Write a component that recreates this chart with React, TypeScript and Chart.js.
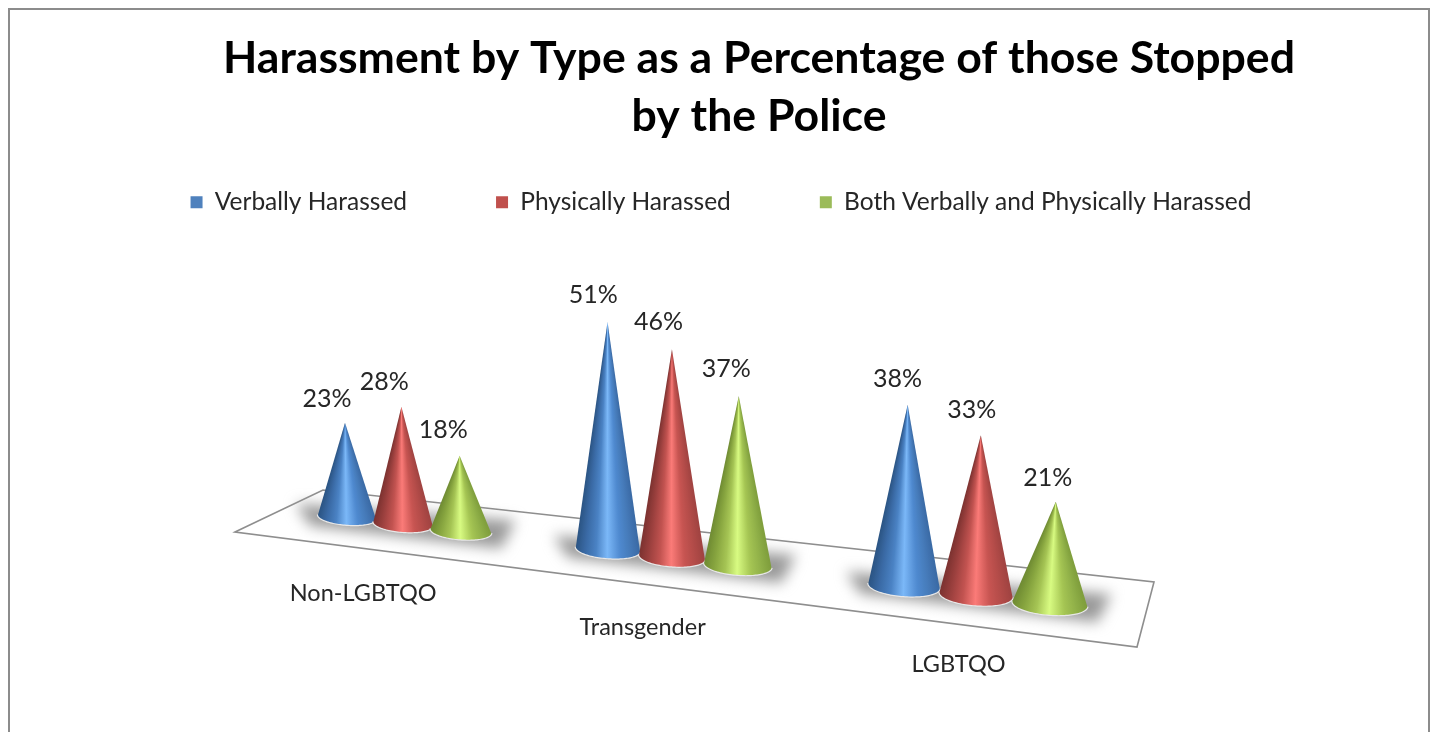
import React, { useEffect, useRef } from "react";
import { Chart, registerables } from "chart.js";

Chart.register(...registerables);

const categories = ["Non-LGBTQO", "Transgender", "LGBTQO"];
const verballyHarassed = [23, 51, 38];
const physicallyHarassed = [28, 46, 33];
const bothHarassed = [18, 37, 21];
const seriesNames = ["Verbally Harassed", "Physically Harassed", "Both Verbally and Physically Harassed"];
const titleLines = ["Harassment by Type as a Percentage of those Stopped", "by the Police"];

const FONT = "Lato, Carlito, Calibri, sans-serif";

const ramps: [number, string][][] = [
  [[0, "#3a6aa5"], [0.12, "#4478b6"], [0.3, "#4f8ad0"], [0.5, "#7bb8f8"], [0.68, "#4a82c4"], [0.85, "#3a6aa5"], [1, "#2b5483"]],
  [[0, "#a04341"], [0.12, "#b04a47"], [0.3, "#c85552"], [0.5, "#fb7b78"], [0.68, "#c25350"], [0.85, "#9c403e"], [1, "#7c3230"]],
  [[0, "#7f9e3c"], [0.12, "#8eae47"], [0.3, "#a6c654"], [0.5, "#d8fb82"], [0.68, "#a5c454"], [0.85, "#87a53f"], [1, "#6f8b33"]],
];

const hex = (s: string) => [1, 3, 5].map((i) => parseInt(s.slice(i, i + 2), 16));
function rampColor(ramp: [number, string][], u: number) {
  for (let i = 1; i < ramp.length; i++) {
    if (u <= ramp[i][0]) {
      const t = (u - ramp[i - 1][0]) / (ramp[i][0] - ramp[i - 1][0]);
      const a = hex(ramp[i - 1][1]);
      const b = hex(ramp[i][1]);
      return `rgb(${a.map((v, k) => Math.round(v + (b[k] - v) * t)).join(",")})`;
    }
  }
  return ramp[ramp.length - 1][1];
}

// Oblique floor projection: scale pixels -> picture pixels
const projX = (t: number) => {
  const d = t - 723;
  return 672 + 0.6036 * d + 7.8e-5 * d * d;
};
const floorY = (sx: number, base: number) => base + 0.1238 * (sx - 672);
const pxPerValue = (sx: number) => 4.22 + 0.00111 * (sx - 347);
const radiusX = (sx: number) => 29 + 0.0121 * (sx - 347);
const radiusY = (sx: number) => 8 + 0.0043 * (sx - 347);

function drawCone(ctx: CanvasRenderingContext2D, el: any, value: number, ramp: [number, string][], unit: number) {
  const sx = projX(el.x);
  const fy = floorY(sx, el.base);
  const by = fy - 3;
  const rx = radiusX(sx);
  const ry = radiusY(sx);
  const h = ((el.base - el.y) / unit) * pxPerValue(sx);
  const ax = sx + (sx - 680) * (sx < 680 ? 0.006 : 0.016);
  const ay = fy - h;
  const rot = 0.075;
  const pt = (th: number) => {
    const px = rx * Math.cos(th);
    const py = ry * Math.sin(th);
    return [sx + px * Math.cos(rot) - py * Math.sin(rot), by + px * Math.sin(rot) + py * Math.cos(rot)];
  };
  const N = 60;
  ctx.save();
  const rim = new Path2D();
  for (let i = 0; i <= N; i++) {
    const p = pt(Math.PI - (Math.PI * i) / N);
    if (i === 0) rim.moveTo(p[0], p[1]);
    else rim.lineTo(p[0], p[1]);
  }
  ctx.strokeStyle = "#e8e8e8";
  ctx.lineWidth = 2.4;
  ctx.stroke(rim);

  // colours converge on the apex through an angular gradient
  const grad = (ctx as any).createConicGradient(0, ax, ay);
  for (let i = 0; i <= N; i++) {
    const th = (Math.PI * i) / N; // right (0) to left (PI) across the front
    const p = pt(th);
    let ang = Math.atan2(p[1] - ay, p[0] - ax);
    if (ang < 0) ang += Math.PI * 2;
    grad.addColorStop(Math.min(1, ang / (Math.PI * 2)), rampColor(ramp, (1 - Math.cos(th)) / 2));
  }
  const body = new Path2D();
  body.moveTo(ax, ay);
  for (let i = 0; i <= N; i++) {
    const p = pt(Math.PI - (Math.PI * i) / N);
    body.lineTo(p[0], p[1]);
  }
  body.closePath();
  ctx.fillStyle = grad;
  ctx.fill(body);
  ctx.restore();

  // value label
  const bump = (ax - 690) / 350;
  ctx.save();
  ctx.font = `25px ${FONT}`;
  ctx.fillStyle = "#262626";
  ctx.textAlign = "center";
  ctx.textBaseline = "middle";
  ctx.fillText(`${value}%`, ax - 18 + 0.014 * (ax - 345), ay - 24 - 3.5 * (1 - bump * bump));
  ctx.restore();
}

const conePlugin = {
  id: "cones",
  afterLayout(chart: any) {
    const t = chart.titleBlock;
    t.left += 72;
    const l = chart.legend;
    const shift = l.top + 89 + 10 - 200;
    l.top -= shift;
    l.bottom -= shift;
    l.left -= 4;
  },
  beforeDraw(chart: any) {
    const ctx = chart.ctx;
    ctx.save();
    ctx.fillStyle = "#ffffff";
    ctx.fillRect(0, 0, chart.width, chart.height);
    ctx.strokeStyle = "#8c8c8c";
    ctx.lineWidth = 2;
    ctx.beginPath();
    ctx.moveTo(9, chart.height + 2);
    ctx.lineTo(9, 9);
    ctx.lineTo(1429, 9);
    ctx.lineTo(1429, chart.height + 2);
    ctx.stroke();
    ctx.restore();
  },
  beforeDatasetDraw() {
    return false;
  },
  afterDatasetsDraw(chart: any) {
    const ctx: CanvasRenderingContext2D = chart.ctx;
    const yScale = chart.scales.y;
    const unit = yScale.getPixelForValue(0) - yScale.getPixelForValue(1);
    const metas = chart.data.datasets.map((_: any, i: number) => chart.getDatasetMeta(i));
    const floor = [[235, 532], [323, 490], [1154, 582], [1137, 647]];
    ctx.save();
    ctx.beginPath();
    floor.forEach((p, i) => (i ? ctx.lineTo(p[0], p[1]) : ctx.moveTo(p[0], p[1])));
    ctx.closePath();
    ctx.fillStyle = "#ffffff";
    ctx.fill();
    ctx.strokeStyle = "#8e8e8e";
    ctx.lineWidth = 1.6;
    ctx.stroke();
    ctx.restore();
    // soft floor shadows
    categories.forEach((_, c) => {
      const s0 = projX(metas[0].data[c].x);
      const s2 = projX(metas[2].data[c].x);
      const b0 = floorY(s0, metas[0].data[c].base);
      const b2 = floorY(s2, metas[2].data[c].base);
      const r0 = radiusX(s0) + 22;
      const r2 = radiusX(s2) + 24;
      ctx.save();
      ctx.filter = "blur(7px)";
      ctx.fillStyle = "#999999";
      ctx.beginPath();
      ctx.moveTo(s0 - r0, b0 - r0 * 0.12 - 10);
      ctx.lineTo(s2 + r2, b2 + r2 * 0.12 - 20);
      ctx.lineTo(s2 + r2 - 14, b2 + r2 * 0.12 + 8);
      ctx.lineTo(s0 - r0 + 14, b0 - r0 * 0.12 + 12);
      ctx.closePath();
      ctx.fill();
      ctx.restore();
    });
    metas.forEach((meta: any, d: number) => {
      meta.data.forEach((el: any, i: number) => {
        drawCone(ctx, el, chart.data.datasets[d].data[i], ramps[d], unit);
      });
    });
    // category labels on the floor
    ctx.save();
    ctx.font = `23.5px ${FONT}`;
    ctx.fillStyle = "#262626";
    ctx.textAlign = "center";
    ctx.textBaseline = "middle";
    chart.data.labels.forEach((label: string, c: number) => {
      const el = metas[1].data[c];
      const sx = projX(el.x);
      ctx.fillText(label, sx - 40 + (sx - 400) * 0.039, floorY(sx, el.base) + 67);
    });
    ctx.restore();
  },
};

export default function App() {
  const ref = useRef<HTMLCanvasElement>(null);
  useEffect(() => {
    const chart = new Chart(ref.current as HTMLCanvasElement, {
      type: "bar",
      data: {
        labels: categories,
        datasets: [
          { label: seriesNames[0], data: verballyHarassed, backgroundColor: "#4f81bd" },
          { label: seriesNames[1], data: physicallyHarassed, backgroundColor: "#c0504d" },
          { label: seriesNames[2], data: bothHarassed, backgroundColor: "#9bbb59" },
        ],
      },
      options: {
        responsive: false,
        animation: false,
        events: [],
        layout: { padding: { left: 11, bottom: 172 } },
        datasets: { bar: { categoryPercentage: 0.68, barPercentage: 1 } },
        scales: {
          x: { display: false },
          y: { display: false, min: 0, max: 60 },
        },
        plugins: {
          tooltip: { enabled: false },
          title: {
            display: true,
            text: titleLines,
            color: "#000000",
            font: { family: FONT, size: 44.6, weight: "bold", lineHeight: 58 / 44.6 },
            padding: { top: 30, bottom: 10 },
          },
          legend: {
            display: true,
            position: "top",
            labels: {
              boxWidth: 12,
              boxHeight: 12,
              padding: 89,
              color: "#262626",
              font: { family: FONT, size: 24.5 },
            },
          },
        },
      } as any,
      plugins: [conePlugin],
    });
    return () => chart.destroy();
  }, []);
  return (
    <div style={{ position: "absolute", left: 0, top: 0, width: 1435, height: 732, overflow: "hidden" }}>
      <canvas ref={ref} width={1435} height={732} style={{ display: "block", filter: "blur(0.5px)" }} />
    </div>
  );
}
